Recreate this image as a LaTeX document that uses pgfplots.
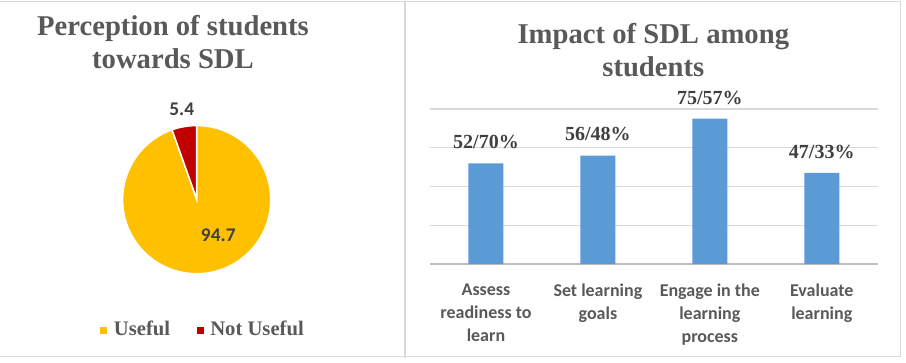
\documentclass[border=0pt]{standalone}
\usepackage{pgfplots}
\pgfplotsset{compat=1.18}
\usepackage{fontspec}
\setmainfont{Liberation Serif}
\newfontfamily\carlito{Carlito}
\definecolor{titlegray}{HTML}{595959}
\definecolor{labelgray}{HTML}{404040}
\definecolor{gridgray}{HTML}{D9D9D9}
\definecolor{axisgray}{HTML}{BFBFBF}
\definecolor{framegray}{HTML}{D9D9D9}
\definecolor{barblue}{HTML}{5B9BD5}
\definecolor{pieyellow}{HTML}{FFC000}
\definecolor{piered}{HTML}{C00000}
\def\useful{94.7}
\def\notuseful{5.4}
\begin{document}
\begin{tikzpicture}
\useasboundingbox (0pt,0pt) rectangle (679.5pt,271.5pt);
% frames
\draw[framegray, line width=1.2pt] (0pt,270.4pt) -- (675.4pt,270.4pt);
\draw[framegray, line width=1.2pt] (0pt,4pt) -- (675.4pt,4pt);
\draw[framegray, line width=1.2pt] (303.9pt,270.4pt) -- (303.9pt,3pt);
\draw[framegray, line width=1.2pt] (675.4pt,270.4pt) -- (675.4pt,4pt);
% ---------- pie ----------
\begin{axis}[
  at={(147.5pt,122.25pt)}, anchor=center,
  scale only axis, width=110.25pt, height=110.25pt,
  xmin=-1, xmax=1, ymin=-1, ymax=1,
  hide axis, clip=false]
\fill[pieyellow, draw=white, line width=1.2pt] (axis cs:0,0) -- (axis cs:0,1)
  arc[start angle=90, end angle={90-3.6*\useful}, radius=55.6pt] -- cycle;
\fill[piered, draw=white, line width=1.2pt] (axis cs:0,0) -- (axis cs:0,1)
  arc[start angle=90, end angle={90+3.6*\notuseful}, radius=55.6pt] -- cycle;
\end{axis}
\node[anchor=base, text=labelgray, font=\carlito\bfseries\fontsize{14.5}{17}\selectfont, inner sep=0pt]
  at (136.3pt,185.25pt) {5.4};
\node[anchor=base, text=labelgray, font=\carlito\bfseries\fontsize{14.5}{17}\selectfont, inner sep=0pt]
  at (163.7pt,90.2pt) {94.7};
% pie title
\node[anchor=base, text=titlegray, font=\bfseries\fontsize{21.5}{25}\selectfont, inner sep=0pt]
  at (129.75pt,245.25pt) {Perception of students};
\node[anchor=base, text=titlegray, font=\bfseries\fontsize{21.5}{25}\selectfont, inner sep=0pt]
  at (129.75pt,220.3pt) {towards SDL};
% legend
\node[anchor=base west, text=titlegray, font=\bfseries\fontsize{15.5}{18}\selectfont, inner sep=0pt]
  at (75pt,20.25pt) {{\color{pieyellow}\rule[1pt]{5.25pt}{5.25pt}}\hspace{5pt}Useful};
\node[anchor=base west, text=titlegray, font=\bfseries\fontsize{15.5}{18}\selectfont, inner sep=0pt]
  at (147.75pt,20.25pt) {{\color{piered}\rule[1pt]{5.25pt}{5.25pt}}\hspace{4.5pt}Not Useful};
% ---------- bars ----------
\begin{axis}[
  at={(322.5pt,73.5pt)}, anchor=south west,
  scale only axis, width=335.8pt, height=116.25pt,
  xmin=0.5, xmax=4.5, ymin=0, ymax=80,
  axis x line*=bottom, axis y line*=left,
  x axis line style={draw=axisgray, line width=1pt, -},
  y axis line style={draw=none},
  ytick={0,20,40,60,80}, yticklabels={}, ytick style={draw=none},
  ymajorgrids, grid style={draw=gridgray, line width=1pt},
  xtick={1,2,3,4},
  xticklabels={{Assess\\readiness to\\learn},{Set learning\\goals},{Engage in the\\learning\\process},{Evaluate\\learning}},
  xticklabel style={align=center, text=titlegray, font=\carlito\bfseries\fontsize{13.5}{17.25}\selectfont,
    anchor=north, inner sep=0pt, yshift=-10.4pt, execute at begin node={\strut}},
  major x tick style={draw=none},
  extra x ticks={0.5,1.5,2.5,3.5,4.5},
  extra x tick labels={},
  extra x tick style={tick align=outside, major tick length=3pt, tick style={draw=axisgray, line width=1pt}, grid=none},
  ybar, bar width=26.25pt,
  nodes near coords,
  point meta=explicit symbolic,
  every node near coord/.append style={anchor=base, yshift=10.9pt, inner sep=0pt, text=labelgray, font=\bfseries\fontsize{15}{18}\selectfont},
]
\addplot[fill=barblue, draw=none] coordinates {
  (1,52) [52/70\%]
  (2,56) [56/48\%]
  (3,75) [75/57\%]
  (4,47) [47/33\%]
};
\end{axis}
\node[anchor=base, text=titlegray, font=\bfseries\fontsize{21.5}{25}\selectfont, inner sep=0pt]
  at (490pt,239pt) {Impact of SDL among};
\node[anchor=base, text=titlegray, font=\bfseries\fontsize{21.5}{25}\selectfont, inner sep=0pt]
  at (490pt,214pt) {students};
\end{tikzpicture}
\end{document}
